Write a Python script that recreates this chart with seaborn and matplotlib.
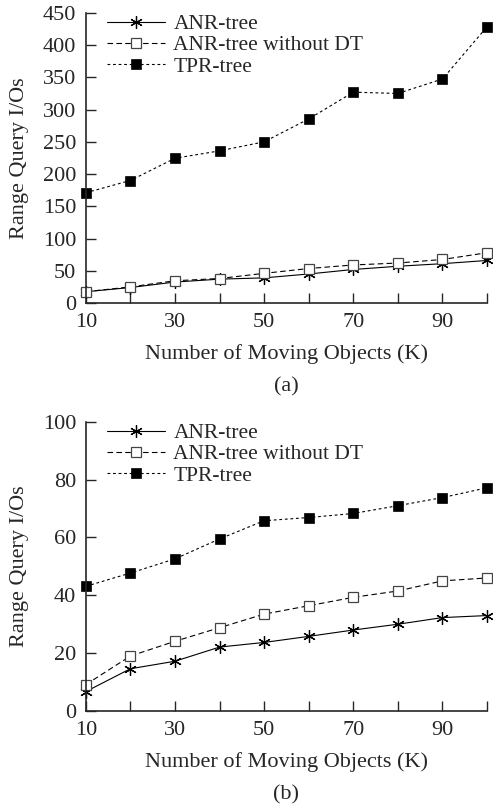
import matplotlib
matplotlib.use("Agg")
import matplotlib.pyplot as plt
import numpy as np
import pandas as pd
import seaborn as sns

# --- data ---
objects_k = [10, 20, 30, 40, 50, 60, 70, 80, 90, 100]

# (a)
anr_a = [17.5, 24, 32.5, 37, 39, 45, 52, 57, 61, 66]
anr_nodt_a = [17.5, 25, 34.5, 38, 46, 53.5, 59, 62, 67.5, 78]
tpr_a = [171, 190, 224.5, 236, 250, 285.5, 327, 325, 347.5, 428.5]

# (b)
anr_b = [6.7, 14.6, 17.2, 22.1, 23.7, 25.8, 28.0, 30.0, 32.3, 33.0]
anr_nodt_b = [9.1, 19.0, 24.1, 28.8, 33.5, 36.4, 39.3, 41.5, 45.0, 46.0]
tpr_b = [43.1, 47.7, 52.6, 59.5, 65.8, 66.9, 68.3, 71.0, 73.8, 77.2]

series_names = ["ANR-tree", "ANR-tree without DT", "TPR-tree"]

sns.set_style("ticks")
plt.rcParams["font.family"] = ["Liberation Serif", "DejaVu Serif"]

FS = 16

STYLES = {
    "ANR-tree": dict(linestyle="-", marker=(6, 2, 0), markersize=9,
                     markeredgecolor="black", markeredgewidth=0.9),
    "ANR-tree without DT": dict(linestyle=(0, (5, 3)), marker="s", markersize=6.5,
                                markerfacecolor="white", markeredgecolor="#444444",
                                markeredgewidth=0.9),
    "TPR-tree": dict(linestyle=(0, (2.5, 2.5)), marker="s", markersize=7,
                     markerfacecolor="black", markeredgecolor="black",
                     markeredgewidth=0.5),
}


def draw_panel(ax, values, ymax, ystep, caption):
    for name, ys in zip(series_names, values):
        df = pd.DataFrame({"x": objects_k, "y": ys})
        sns.lineplot(data=df, x="x", y="y", ax=ax, color="black", linewidth=0.8,
                     label=name, **STYLES[name])
    ax.set_xlim(10, 100)
    ax.set_ylim(0, ymax)
    ax.set_xticks(objects_k)
    ax.set_xticklabels([str(v) if v in (10, 30, 50, 70, 90) else "" for v in objects_k])
    ax.set_yticks(np.arange(0, ymax + 1, ystep))
    ax.tick_params(direction="in", length=7, width=1.0, labelsize=FS, pad=7)
    for s in ("top", "right"):
        ax.spines[s].set_visible(False)
    ax.spines["left"].set_linewidth(1.2)
    ax.spines["bottom"].set_linewidth(1.2)
    ax.set_xlabel("Number of Moving Objects (K)", fontsize=FS, labelpad=9)
    ax.set_ylabel("Range Query I/Os", fontsize=FS, labelpad=10)
    ax.legend(loc="upper left", frameon=False, fontsize=15.5, handlelength=2.7,
              handletextpad=0.4, labelspacing=0.05, borderaxespad=0.2,
              bbox_to_anchor=(0.02, 1.04))
    ax.text(0.5, -0.29, caption, transform=ax.transAxes, ha="center", va="center",
            fontsize=FS)
    for line in ax.get_lines():
        line.set_clip_on(False)


fig = plt.figure(figsize=(4.93, 8.05), dpi=100)
ax_a = fig.add_axes([0.174, 0.6236, 0.814, 0.3604])
ax_b = fig.add_axes([0.174, 0.1168, 0.814, 0.3592])

draw_panel(ax_a, [anr_a, anr_nodt_a, tpr_a], 450, 50, "(a)")
draw_panel(ax_b, [anr_b, anr_nodt_b, tpr_b], 100, 20, "(b)")

fig.savefig("out.png", dpi=100)
